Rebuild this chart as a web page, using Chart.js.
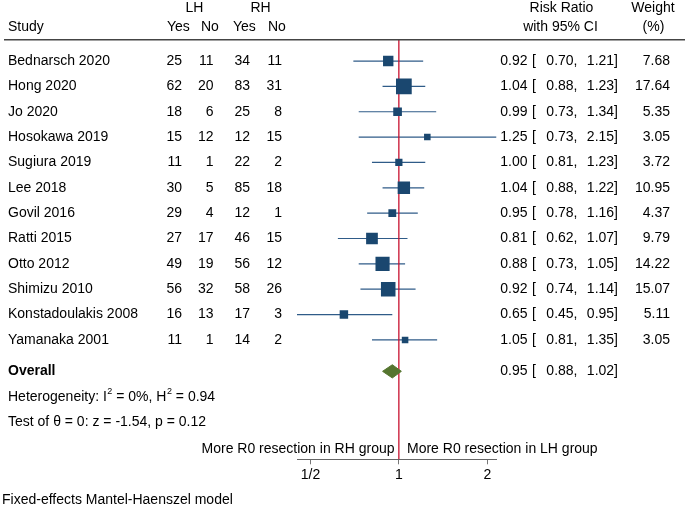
<!DOCTYPE html>
<html>
<head>
<meta charset="utf-8">
<script src="https://cdn.jsdelivr.net/npm/chart.js@4/dist/chart.umd.min.js"></script>
<style>
  html,body{margin:0;padding:0;background:#fff;}
  #wrap{width:685px;height:506px;position:relative;}
</style>
</head>
<body>
<div id="wrap"><canvas id="forest" width="685" height="506"></canvas></div>
<script>
// ─── DATA ─────────────────────────────────────────────────────────────────────
const studies = ['Bednarsch 2020','Hong 2020','Jo 2020','Hosokawa 2019','Sugiura 2019','Lee 2018',
  'Govil 2016','Ratti 2015','Otto 2012','Shimizu 2010','Konstadoulakis 2008','Yamanaka 2001'];
const lhYes = [25,62,18,15,11,30,29,27,49,56,16,11];
const lhNo  = [11,20, 6,12, 1, 5, 4,17,19,32,13, 1];
const rhYes = [34,83,25,12,22,85,12,46,56,58,17,14];
const rhNo  = [11,31, 8,15, 2,18, 1,15,12,26, 3, 2];
const rr    = [0.92,1.04,0.99,1.25,1.00,1.04,0.95,0.81,0.88,0.92,0.65,1.05];
const ciLo  = [0.70,0.88,0.73,0.73,0.81,0.88,0.78,0.62,0.73,0.74,0.45,0.81];
const ciHi  = [1.21,1.23,1.34,2.15,1.23,1.22,1.16,1.07,1.05,1.14,0.95,1.35];
const weight = [7.68,17.64,5.35,3.05,3.72,10.95,4.37,9.79,14.22,15.07,5.11,3.05];
const overall = [0.95,0.88,1.02]; // est, lo, hi
const tickVals = [0.5,1,2];
const tickLabels = ['1/2','1','2'];

// ─── LAYOUT ───────────────────────────────────────────────────────────────────
const Y_MIN = -0.83, Y_MAX = 15.71;
const ROW_OVERALL = 12.24, ROW_HET = 13.24, ROW_TEST = 14.24, ROW_FAVOURS = 15.31;
const DIAMOND_H = 0.26;
const FONT = '14px "Liberation Sans", Arial, sans-serif';
const FONT_B = 'bold 14px "Liberation Sans", Arial, sans-serif';
const FONT_S = '9px "Liberation Sans", Arial, sans-serif';
const NAVY = '#1a476f', CI_COL = '#2f5b88', RED = '#c8102e', GREEN = '#55752f';
const fmt = v => v.toFixed(2);

const ciSets = studies.map((s,i) => ({
  data:[{x:ciLo[i],y:i},{x:ciHi[i],y:i}], showLine:true, borderColor:CI_COL, borderWidth:1.2,
  pointRadius:0, order:3
}));

const textPlugin = {
  id:'forestText',
  afterDraw(chart){
    const {ctx} = chart, ys = chart.scales.y;
    const put = (t,x,y,align,font) => { ctx.font = font||FONT; ctx.textAlign = align||'left'; ctx.fillText(t,x,y); return ctx.measureText(t).width; };
    // text with superscript "2" pieces: [[text, isSup], ...]
    const putSup = (parts,x,y) => { parts.forEach(([t,sup]) => { x += sup ? put(t,x+0.5,y-5,'left',FONT_S)+0.5 : put(t,x,y); }); };
    ctx.save();
    ctx.fillStyle = '#000';
    // header
    ctx.textBaseline = 'alphabetic';
    put('LH',194.5,12,'center'); put('RH',260.5,12,'center');
    put('Risk Ratio',561.5,12,'center'); put('Weight',653,12,'center');
    put('Study',8,31); put('Yes',167,31); put('No',201,31); put('Yes',233,31); put('No',268,31);
    put('with 95% CI',560.5,31,'center'); put('(%)',653.5,31,'center');
    ctx.fillStyle = '#444'; ctx.fillRect(4,39,681,1.5); ctx.fillStyle = '#000';
    // study rows
    ctx.textBaseline = 'middle';
    const ciText = (y,e,l,h) => { put(fmt(e),527.5,y,'right'); put('[',532,y); put(fmt(l)+',',577.5,y,'right'); put(fmt(h)+']',618,y,'right'); };
    studies.forEach((s,i) => {
      const y = ys.getPixelForValue(i);
      put(s,8,y);
      put(String(lhYes[i]),182,y,'right'); put(String(lhNo[i]),213.5,y,'right');
      put(String(rhYes[i]),250,y,'right'); put(String(rhNo[i]),282,y,'right');
      ciText(y,rr[i],ciLo[i],ciHi[i]);
      put(fmt(weight[i]),670,y,'right');
    });
    const yo = ys.getPixelForValue(ROW_OVERALL);
    put('Overall',8,yo,'left',FONT_B);
    ciText(yo,overall[0],overall[1],overall[2]);
    putSup([['Heterogeneity: I',0],['2',1],[' = 0%, H',0],['2',1],[' = 0.94',0]],8,ys.getPixelForValue(ROW_HET));
    put('Test of \u03B8 = 0: z = -1.54, p = 0.12',8,ys.getPixelForValue(ROW_TEST));
    const yf = ys.getPixelForValue(ROW_FAVOURS);
    put('More R0 resection in RH group',394.5,yf,'right');
    put('More R0 resection in LH group',407,yf);
    put('Fixed-effects Mantel-Haenszel model',2,500);
    ctx.restore();
  }
};

new Chart(document.getElementById('forest'), {
  type:'scatter',
  data:{datasets:[
    {data:studies.map((s,i)=>({x:rr[i],y:i})), pointStyle:'rect', backgroundColor:NAVY, borderWidth:0,
      pointRadius:weight.map(w=>2.65*Math.sqrt(w)), order:0},
    // overall diamond: upper edge filled down to lower edge
    {data:[{x:overall[1],y:ROW_OVERALL},{x:overall[0],y:ROW_OVERALL-DIAMOND_H},{x:overall[2],y:ROW_OVERALL}],
      showLine:true, fill:'+1', backgroundColor:GREEN, borderColor:GREEN, borderWidth:1, pointRadius:0, order:0},
    {data:[{x:overall[1],y:ROW_OVERALL},{x:overall[0],y:ROW_OVERALL+DIAMOND_H},{x:overall[2],y:ROW_OVERALL}],
      showLine:true, fill:false, borderColor:GREEN, borderWidth:1, pointRadius:0, order:0},
    {data:[{x:1,y:Y_MIN},{x:1,y:Y_MAX}], showLine:true, borderColor:RED, borderWidth:1.3, pointRadius:0, order:2},
    ...ciSets
  ]},
  options:{
    responsive:false, animation:false, events:[],
    layout:{padding:{left:297,right:188.5,top:40,bottom:0}},
    plugins:{legend:{display:false}, tooltip:{enabled:false}},
    scales:{
      x:{type:'logarithmic', min:0.45, max:2.15,
        afterBuildTicks:s=>{ s.ticks = tickVals.map(v=>({value:v})); },
        afterFit:s=>{ s.height = 46.7; },
        grid:{display:true, drawOnChartArea:false, drawTicks:true, tickLength:5, color:'#777'},
        border:{display:true, color:'#666', width:1},
        ticks:{autoSkip:false, maxRotation:0, padding:2, color:'#000', font:{family:'"Liberation Sans", Arial, sans-serif', size:14},
          callback:v=>tickLabels[tickVals.indexOf(v)]}
      },
      y:{type:'linear', display:false, reverse:true, min:Y_MIN, max:Y_MAX}
    }
  },
  plugins:[textPlugin]
});
</script>
</body>
</html>
